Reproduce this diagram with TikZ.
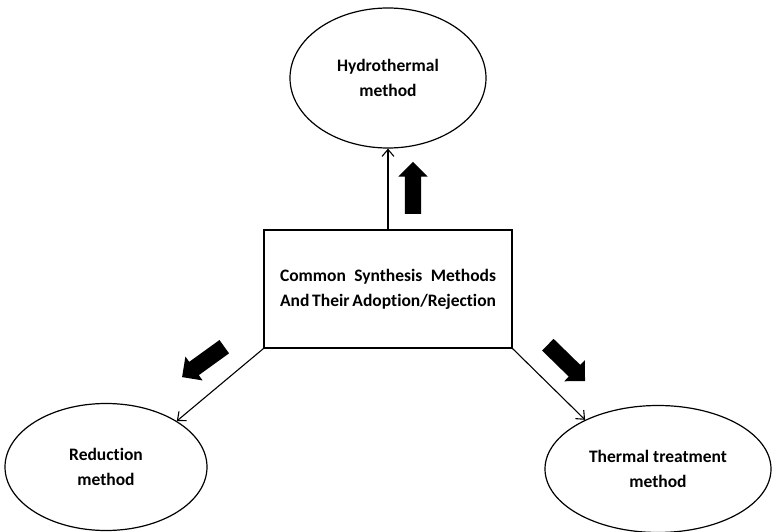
\documentclass[tikz,border=0pt]{standalone}
\usepackage{fontspec}
\setmainfont{Carlito}[Ligatures=NoCommon]
\usetikzlibrary{shapes}
\usetikzlibrary{shapes.arrows}
\usetikzlibrary{positioning}
\usetikzlibrary{arrows.meta}
\tikzset{
    mainbox/.style = {rectangle, draw=black, line width=1.2pt, minimum width=248pt, minimum height=118pt, fill=white},
    methodnode/.style = {ellipse, draw=black, line width=1.2pt, inner sep=0pt, align=center, fill=white},
    edgen/.style = {-{Straight Barb[length=7pt,width=12pt]}, line width=1.1pt},
    fatarrow/.style = {single arrow, fill=black, draw=none, inner xsep=0pt, inner ysep=8pt, single arrow head extend=6.5pt, minimum height=52pt},
    every picture/.style={font issue=\bfseries},
    font issue/.style={execute at begin picture={#1\fontsize{17.5}{25}\selectfont}
  }
}

\begin{document}
\begin{tikzpicture}[x=1pt, y=-1pt]
\useasboundingbox (0,0) rectangle (772,532);
%
\node[mainbox] at (388, 289) (box) {};
\node[text width=216pt, align=justify] at (388, 289) (boxtext) {Common Synthesis Methods And Their Adoption/Rejection};
\node[methodnode, minimum width=196pt, minimum height=140pt] at (388, 78) (hydro) {Hydrothermal\\method};
\node[methodnode, minimum width=202pt, minimum height=127pt] at (106, 467) (redn) {Reduction\\method};
\node[methodnode, minimum width=226pt, minimum height=127pt] at (658, 469) (therm) {Thermal treatment\\method};
%
\draw[edgen] (box.north) -- (hydro.south);
\draw[edgen] (box.south west) -- (redn.33);
\draw[edgen] (box.south east) -- (therm.146);
%
\node[fatarrow, rotate=90] at (413, 192) (upar) {};
\node[fatarrow, rotate=215.8] at (206.5, 359.5) (leftar) {};
\node[fatarrow, rotate=-44.3] at (563.5, 360) (rightar) {};

\end{tikzpicture}
\end{document}
